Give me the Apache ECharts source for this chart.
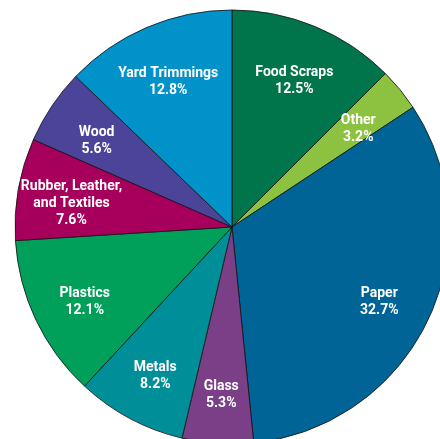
<!DOCTYPE html>
<html><head><meta charset="utf-8">
<script src="https://cdn.jsdelivr.net/npm/echarts@6/dist/echarts.min.js"></script>
<style>html,body{margin:0;padding:0;background:#fff}#c{width:440px;height:439px}</style>
</head><body><div id="c"></div>
<script>
const categories = ['Food Scraps','Other','Paper','Glass','Metals','Plastics','Rubber, Leather,\nand Textiles','Wood','Yard Trimmings'];
const percents = [12.5, 3.2, 32.7, 5.3, 8.2, 12.1, 7.6, 5.6, 12.8];
const colors = ['#00744a','#8cc23f','#006497','#7b3f88','#008f99','#00a05a','#a6005c','#4b4499','#0092c8'];

const chart = echarts.init(document.getElementById('c'), null, {renderer:'canvas'});
const mainData = categories.map((n,i)=>({name:n, value:percents[i], itemStyle:{color:colors[i]}}));
const labelData = categories.map((n,i)=>({name:n, value:percents[i]}));
chart.setOption({
  animation:false,
  series:[
    {type:'pie', center:[232,227], radius:[0,217], startAngle:90, clockwise:true,
     data:mainData, label:{show:false}, labelLine:{show:false},
     itemStyle:{borderColor:'#111', borderWidth:0.8}, silent:true},
    {type:'pie', center:[232,227], radius:[103,217], startAngle:90, clockwise:true,
     data:labelData, silent:true,
     itemStyle:{color:'rgba(0,0,0,0)', borderWidth:0},
     label:{show:true, position:'inside', color:'#fff', fontFamily:'Roboto', fontWeight:'bold', fontSize:14, lineHeight:17, offset:[0,5],
       formatter: p => p.name + '\n' + p.value.toFixed(1) + '%'},
     labelLine:{show:false}}
  ]
});
</script></body></html>
